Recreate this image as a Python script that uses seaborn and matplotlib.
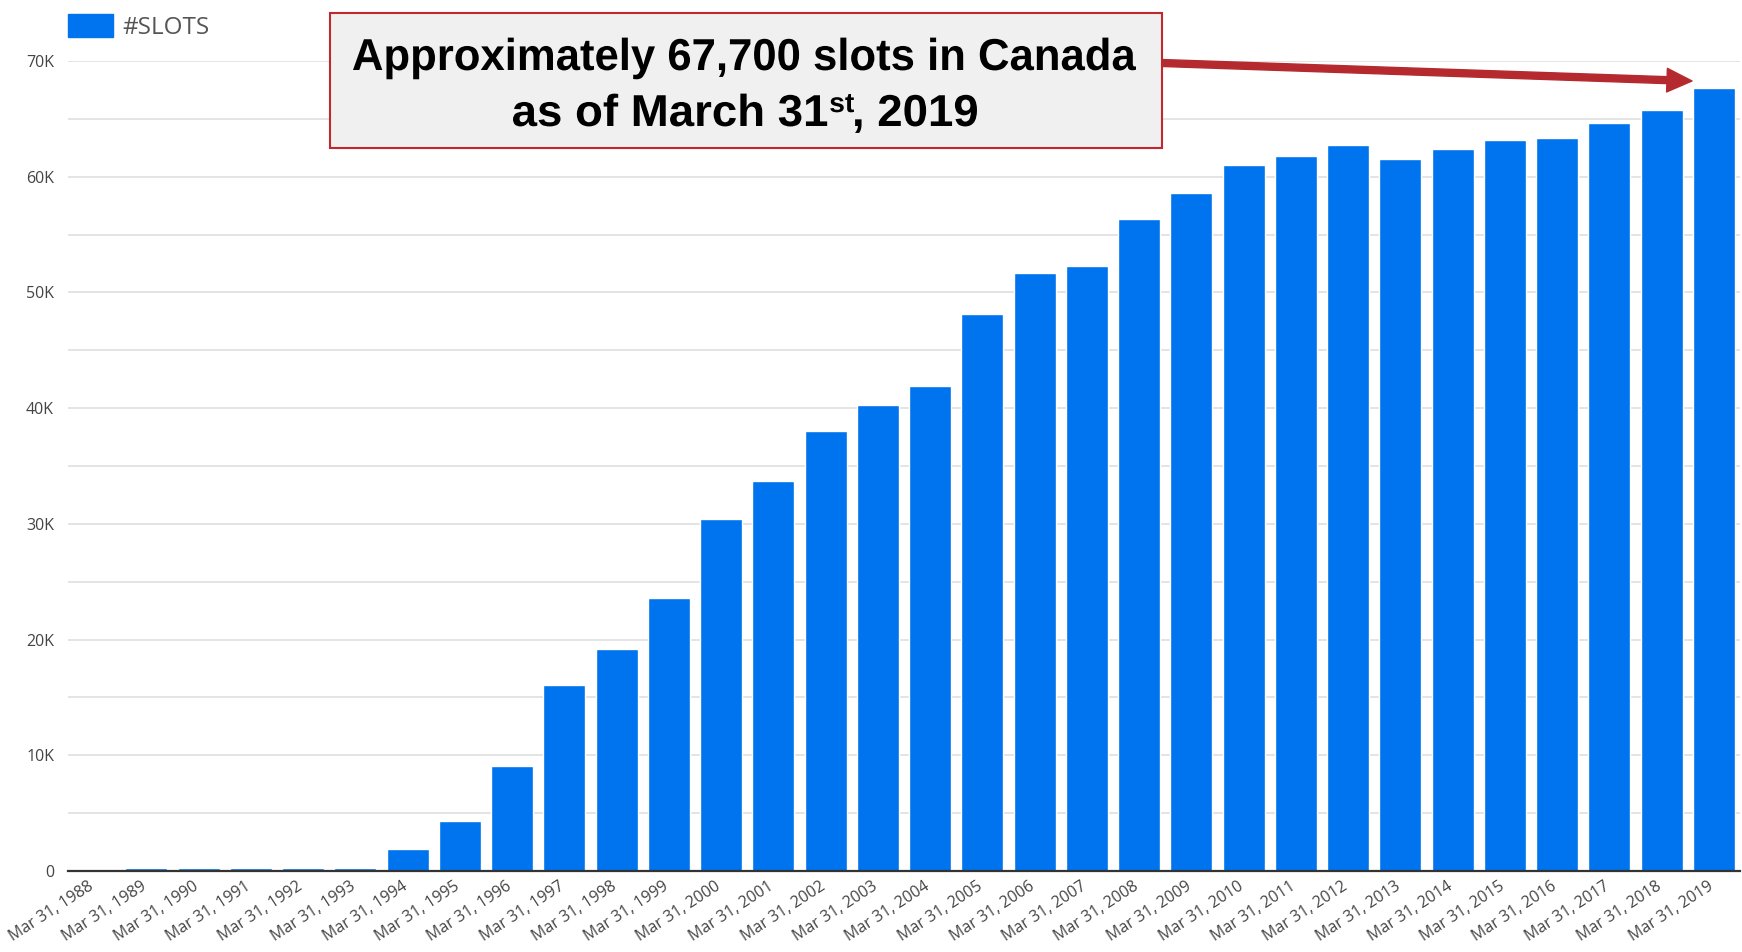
import matplotlib
matplotlib.use("Agg")
import matplotlib.pyplot as plt
import matplotlib.transforms as mtransforms
import seaborn as sns
import numpy as np
import pandas as pd
from matplotlib.patches import Rectangle, FancyArrowPatch, Patch, ArrowStyle, PathPatch
from matplotlib.textpath import TextPath
from matplotlib.path import Path
from matplotlib.font_manager import FontProperties
from matplotlib.ticker import FuncFormatter, MultipleLocator

years = list(range(1988, 2020))
categories = [f"Mar 31, {y}" for y in years]
slots = [0, 250, 250, 250, 300, 300, 1900, 4300, 9100, 16050, 19200, 23550,
         30450, 33700, 38000, 40300, 41950, 48100, 51650, 52250, 56350, 58550,
         61000, 61750, 62700, 61550, 62400, 63150, 63350, 64600, 65800, 67700]
series_name = "#SLOTS"
annotation_line1 = "Approximately 67,700 slots in Canada"
annotation_line2_parts = ["as of March 31", "st", ", 2019"]

df = pd.DataFrame({"date": categories, "slots": slots})

sns.set_theme(style="white")
plt.rcParams["font.family"] = ["Open Sans", "DejaVu Sans"]

W, H = 1742, 952
fig = plt.figure(figsize=(W / 100, H / 100), dpi=100)
ax = fig.add_axes([68 / W, 1 - 871 / H, (1740 - 68) / W, (871 - 61) / H])

bar_color = "#0073EE"
sns.barplot(data=df, x="date", y="slots", color=bar_color, saturation=1,
            width=0.8, ax=ax, zorder=3)

ax.set_ylim(0, 70000)
ax.set_xlim(-0.5, len(categories) - 0.5)
ax.yaxis.set_major_locator(MultipleLocator(10000))
ax.yaxis.set_minor_locator(MultipleLocator(5000))
ax.yaxis.set_major_formatter(FuncFormatter(lambda v, p: "0" if v == 0 else f"{int(v/1000)}K"))
ax.grid(axis="y", which="both", color="#e2e2e2", linewidth=1.3, zorder=0)
ax.grid(axis="x", visible=False)
ax.set_axisbelow(True)
ax.set_xlabel("")
ax.set_ylabel("")
for s in ["top", "right", "left"]:
    ax.spines[s].set_visible(False)
ax.spines["bottom"].set_color("#333333")
ax.spines["bottom"].set_linewidth(1.6)
ax.spines["bottom"].set_zorder(4)
ax.tick_params(axis="y", which="both", length=0, pad=10, labelsize=11.5, labelcolor="#444444")
ax.tick_params(axis="x", length=0, pad=5, labelsize=11.5, labelcolor="#444444")
offset = mtransforms.ScaledTranslation(-6 / 100, 0, fig.dpi_scale_trans)
for lbl in ax.get_xticklabels():
    lbl.set_rotation(33)
    lbl.set_ha("right")
    lbl.set_rotation_mode("anchor")
    lbl.set_transform(lbl.get_transform() + offset)

# legend
handle = Patch(facecolor=bar_color, edgecolor=bar_color, label=series_name)
fig.legend(handles=[handle], loc="upper left", bbox_to_anchor=(68 / W, 1 - 14 / H),
           frameon=False, fontsize=17.5, handlelength=1.85, handleheight=1.05,
           handletextpad=0.4, borderpad=0, borderaxespad=0, labelcolor="#555555")

# annotation box
bx0, bx1, by0, by1 = 330, 1162, 13, 148
fig.add_artist(Rectangle((bx0 / W, 1 - by1 / H), (bx1 - bx0) / W, (by1 - by0) / H,
                         transform=fig.transFigure, facecolor="#f0f0f0",
                         edgecolor="#c0282d", linewidth=1.5, zorder=5))

fp = FontProperties(family="Liberation Sans", weight="bold")
cap = 32
em_px = cap / 0.716


def place_path(path, left, right, baseline):
    ext = path.get_extents()
    sx = (right - left) / ext.width
    tr = (mtransforms.Affine2D().translate(-ext.x0, 0).scale(sx, 1)
          .translate(left, H - baseline))
    fig.add_artist(PathPatch(path, transform=tr, facecolor="black",
                             edgecolor="none", zorder=6))


place_path(TextPath((0, 0), annotation_line1, size=em_px, prop=fp), 353, 1136, 70)

# second line with a superscript
p1 = TextPath((0, 0), annotation_line2_parts[0], size=em_px, prop=fp)
x_after = p1.get_extents().x1 + 2
sup_size = em_px * 0.62
p_sup = TextPath((0, 0), annotation_line2_parts[1], size=sup_size, prop=fp)
sup_top = p_sup.get_extents().y1
p_sup = p_sup.transformed(mtransforms.Affine2D().translate(x_after, cap - sup_top))
x_after2 = p_sup.get_extents().x1 + 1
p3 = TextPath((0, 0), annotation_line2_parts[2], size=em_px, prop=fp)
p3 = p3.transformed(mtransforms.Affine2D().translate(x_after2 - p3.get_extents().x0, 0))
line2 = Path.make_compound_path(p1, p_sup, p3)
place_path(line2, 513, 977, 126)

# arrow
arrow = FancyArrowPatch((bx1 / W, 1 - 63 / H), (1692 / W, 1 - 81 / H),
                        transform=fig.transFigure,
                        arrowstyle=ArrowStyle.Simple(head_length=18, head_width=17, tail_width=5),
                        mutation_scale=1, color="#b52a2f", shrinkA=0, shrinkB=0, zorder=6)
fig.add_artist(arrow)

fig.savefig("out.png", dpi=100)
